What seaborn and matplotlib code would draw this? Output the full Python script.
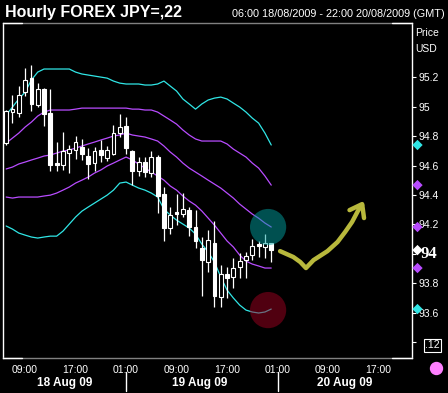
import numpy as np
import pandas as pd
import seaborn as sns
import matplotlib.pyplot as plt
import matplotlib.transforms as mtransforms
from matplotlib.lines import Line2D

# hours counted from 18 Aug 2009 00:00 GMT (one candle per hour, 06:00 18 Aug .. 00:00 20 Aug)
hours = list(range(6, 49))

opens = [94.753, 94.964, 94.957, 95.100, 95.195, 95.012, 95.121, 94.957, 94.617, 94.604,
         94.685, 94.706, 94.726, 94.665, 94.617, 94.706, 94.651, 94.678, 94.821, 94.869,
         94.699, 94.563, 94.624, 94.549, 94.658, 94.406, 94.175, 94.284, 94.270, 94.297,
         94.182, 94.039, 93.944, 94.073, 93.706, 93.862, 93.842, 93.910, 93.957, 93.991,
         94.066, 94.046, 94.073]
highs = [94.978, 95.080, 95.141, 95.263, 95.284, 95.161, 95.127, 95.121, 94.760, 94.828,
         94.740, 94.801, 94.780, 94.719, 94.726, 94.774, 94.733, 94.876, 94.951, 94.930,
         94.706, 94.658, 94.658, 94.699, 94.672, 94.454, 94.318, 94.406, 94.413, 94.318,
         94.297, 94.114, 94.161, 94.223, 93.923, 93.910, 93.971, 94.005, 94.012, 94.100,
         94.087, 94.134, 94.073]
lows = [94.740, 94.889, 94.930, 95.073, 94.971, 94.998, 94.869, 94.563, 94.563, 94.570,
        94.549, 94.644, 94.638, 94.508, 94.563, 94.624, 94.631, 94.672, 94.794, 94.678,
        94.468, 94.529, 94.522, 94.522, 94.277, 94.087, 94.134, 94.195, 94.250, 94.121,
        94.039, 93.712, 93.876, 93.638, 93.638, 93.699, 93.767, 93.835, 93.835, 93.957,
        93.978, 93.971, 93.944]
closes = [94.971, 94.984, 95.080, 95.182, 95.019, 95.121, 94.951, 94.604, 94.604, 94.699,
          94.712, 94.760, 94.678, 94.610, 94.699, 94.672, 94.706, 94.821, 94.862, 94.719,
          94.563, 94.624, 94.556, 94.658, 94.393, 94.175, 94.263, 94.270, 94.304, 94.182,
          94.087, 93.957, 94.093, 93.712, 93.862, 93.835, 93.903, 93.951, 93.985, 94.053,
          94.053, 94.073, 94.025]

# bollinger style bands
upper2 = [94.944, 94.998, 95.053, 95.100, 95.182, 95.236, 95.257, 95.257, 95.257, 95.257,
          95.257, 95.236, 95.223, 95.216, 95.209, 95.202, 95.195, 95.175, 95.161, 95.155,
          95.155, 95.155, 95.148, 95.148, 95.155, 95.175, 95.141, 95.107, 95.053, 95.019,
          94.984, 95.019, 95.046, 95.059, 95.066, 95.053, 95.025, 94.998, 94.964, 94.923,
          94.889, 94.821, 94.740]
upper1 = [94.753, 94.787, 94.821, 94.862, 94.896, 94.937, 94.964, 94.978, 94.978, 94.978,
          94.978, 94.984, 94.991, 94.991, 94.991, 94.991, 94.991, 94.991, 94.991, 94.991,
          94.984, 94.984, 94.978, 94.978, 94.964, 94.937, 94.910, 94.882, 94.842, 94.808,
          94.781, 94.767, 94.767, 94.767, 94.767, 94.747, 94.712, 94.685, 94.658, 94.617,
          94.583, 94.529, 94.467]
middle = [94.577, 94.590, 94.611, 94.624, 94.638, 94.651, 94.665, 94.672, 94.685, 94.699,
          94.706, 94.719, 94.733, 94.747, 94.760, 94.774, 94.787, 94.801, 94.808, 94.821,
          94.808, 94.801, 94.794, 94.781, 94.767, 94.733, 94.692, 94.658, 94.617, 94.583,
          94.556, 94.529, 94.501, 94.474, 94.447, 94.413, 94.379, 94.338, 94.304, 94.270,
          94.242, 94.209, 94.182]
lower1 = [94.386, 94.379, 94.386, 94.386, 94.386, 94.386, 94.393, 94.399, 94.413, 94.433,
          94.454, 94.481, 94.501, 94.522, 94.549, 94.570, 94.597, 94.617, 94.638, 94.658,
          94.638, 94.610, 94.583, 94.556, 94.529, 94.501, 94.461, 94.433, 94.393, 94.359,
          94.331, 94.291, 94.243, 94.195, 94.141, 94.087, 94.046, 93.991, 93.950, 93.930,
          93.917, 93.903, 93.903]
lower2 = [94.189, 94.168, 94.141, 94.127, 94.114, 94.107, 94.114, 94.120, 94.120, 94.154,
          94.202, 94.250, 94.290, 94.318, 94.345, 94.372, 94.399, 94.433, 94.481, 94.488,
          94.467, 94.447, 94.433, 94.413, 94.386, 94.304, 94.263, 94.229, 94.202, 94.175,
          94.134, 94.066, 94.012, 93.944, 93.842, 93.753, 93.699, 93.651, 93.617, 93.604,
          93.597, 93.604, 93.624]

xtick_pos = [9, 17, 25, 33, 41, 49, 57, 65]
xtick_lab = ["09:00", "17:00", "01:00", "09:00", "17:00", "01:00", "09:00", "17:00"]
day_pos = [15.3, 36.7, 59.6]
day_lab = ["18 Aug 09", "19 Aug 09", "20 Aug 09"]
day_sep = [25, 49]
ytick_pos = [93.4, 93.6, 93.8, 94.0, 94.2, 94.4, 94.6, 94.8, 95.0, 95.2]
ytick_lab = ["", "93.6", "93.8", "", "94.2", "94.4", "94.6", "94.8", "95", "95.2"]

# hand drawn highlights (hour, price)
circle_x = [47.5, 47.5]
circle_y = [94.182, 93.617]
circle_col = ["#00a0a0", "#a00020"]
arrow_x = [49.4, 51.5, 52.6, 53.5, 54.7, 56.9, 58.5, 59.7, 60.8, 61.8, 62.4]
arrow_y = [94.018, 93.978, 93.944, 93.903, 93.957, 94.018, 94.080, 94.148, 94.216, 94.297, 94.331]
head_x = [60.4, 62.4, 62.7]
head_y = [94.297, 94.338, 94.243]

CYAN = "#30e6e6"
PURPLE = "#b84cff"

sns.set_style("dark", {"axes.facecolor": "black", "figure.facecolor": "black"})
plt.rcParams["font.family"] = ["Liberation Sans", "DejaVu Sans"]

fig = plt.figure(figsize=(4.48, 3.93), dpi=100)
ax = fig.add_axes([3 / 448, 1 - 358 / 393, 409 / 448, 335 / 393])
ax.set_facecolor("black")

bands = pd.DataFrame({
    "hour": hours * 5,
    "price": upper2 + upper1 + middle + lower1 + lower2,
    "band": ["u2"] * 43 + ["u1"] * 43 + ["m"] * 43 + ["l1"] * 43 + ["l2"] * 43,
})
sns.lineplot(data=bands, x="hour", y="price", hue="band", units="band", estimator=None,
             palette={"u2": CYAN, "u1": PURPLE, "m": PURPLE, "l1": PURPLE, "l2": CYAN},
             linewidth=0.9, legend=False, ax=ax, zorder=2)

df = pd.DataFrame({"hour": hours, "o": opens, "h": highs, "l": lows, "c": closes})
up = df["c"] >= df["o"]
ax.vlines(df["hour"], df["l"], df["h"], color="white", linewidth=0.9, zorder=3)
body_lo = df[["o", "c"]].min(axis=1)
body_h = (df["c"] - df["o"]).abs().clip(lower=0.006)
ax.bar(df["hour"][up], body_h[up], bottom=body_lo[up], width=0.6,
       facecolor="black", edgecolor="white", linewidth=0.8, zorder=4)
ax.bar(df["hour"][~up], body_h[~up], bottom=body_lo[~up], width=0.6,
       facecolor="white", edgecolor="white", linewidth=0.8, zorder=4)

# highlights
ax.scatter(circle_x, circle_y, s=680, c=circle_col, alpha=0.5, linewidths=0, zorder=5)
ax.plot(arrow_x, arrow_y, color="#b8b83c", linewidth=3.2, solid_capstyle="round",
        solid_joinstyle="round", zorder=5)
ax.plot(head_x, head_y, color="#b8b83c", linewidth=3.2, solid_capstyle="round",
        solid_joinstyle="round", zorder=5)

ax.set_xlim(5.5, 70.3)
ax.set_ylim(93.291, 95.570)
ax.set_xlabel("")
ax.set_ylabel("")
ax.grid(False)

ax.set_xticks(xtick_pos)
ax.set_xticklabels(xtick_lab)
ax.yaxis.tick_right()
ax.set_yticks(ytick_pos)
ax.set_yticklabels(ytick_lab)
ax.tick_params(axis="x", colors="white", labelsize=7.5, length=2, width=0.8, pad=3)
ax.tick_params(axis="y", colors="white", labelsize=7.5, length=3, width=0.8, pad=2)

for side in ["left", "right"]:
    ax.spines[side].set_color("white")
    ax.spines[side].set_linewidth(1.0)
for side in ["top", "bottom"]:
    ax.spines[side].set_color("#808080")
    ax.spines[side].set_linewidth(1.0)
for yy in [0, 1]:
    for xa, xb in [(0, 0.046), (0.951, 1)]:
        ax.add_line(Line2D([xa, xb], [yy, yy], transform=ax.transAxes, color="white",
                           linewidth=1.0, clip_on=False, zorder=6))

bt = mtransforms.blended_transform_factory(ax.transData, ax.transAxes)
for pos, lab in zip(day_pos, day_lab):
    ax.text(pos, -0.0746, lab, transform=bt, color="white", fontsize=8.5,
            fontweight="bold", ha="center", va="center")
for pos in day_sep:
    ax.add_line(Line2D([pos, pos], [-0.042, -0.0985], transform=bt, color="white",
                       linewidth=1.0, clip_on=False))

# last value markers on the right scale
rt = mtransforms.blended_transform_factory(ax.transAxes, ax.transData)
last_vals = [upper2[-1], upper1[-1], middle[-1], closes[-1], lower1[-1], lower2[-1]]
last_cols = [CYAN, PURPLE, PURPLE, "white", PURPLE, CYAN]
ax.scatter([1.0134] * 6, last_vals, marker="D", s=28, c=last_cols, transform=rt,
           clip_on=False, zorder=7, linewidths=0)
ax.text(1.021, 94.0, "94", transform=rt, color="white", fontsize=12, fontweight="bold",
        family=["Liberation Serif", "DejaVu Serif"], ha="left", va="center")
ax.text(1.032, 93.378, ".12", transform=rt, color="white", fontsize=7.5, ha="left",
        va="center", bbox=dict(boxstyle="square,pad=0.15", facecolor="black",
                               edgecolor="white", linewidth=0.8))
ax.plot([1.0587], [-0.0299], marker="o", markersize=8.6, color="#ff80ff",
        transform=ax.transAxes, clip_on=False)

fig.text(5 / 448, 1 - 12 / 393, "Hourly FOREX JPY=,22", color="white", fontsize=11.5,
         fontweight="bold", ha="left", va="center")
fig.text(445 / 448, 1 - 14 / 393, "06:00 18/08/2009 - 22:00 20/08/2009 (GMT)",
         color="white", fontsize=7.8, ha="right", va="center")
fig.text(415 / 448, 1 - 33 / 393, "Price", color="white", fontsize=7.5, ha="left", va="center")
fig.text(415 / 448, 1 - 49 / 393, "USD", color="white", fontsize=7.5, ha="left", va="center")

fig.savefig("out.png", dpi=100, facecolor="black")
